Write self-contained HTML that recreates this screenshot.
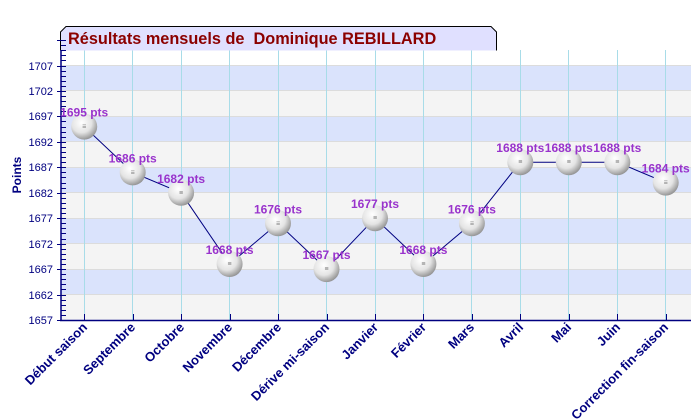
<!DOCTYPE html>
<html><head><meta charset="utf-8"><style>body{margin:0;background:#fff}svg{display:block}</style></head><body>
<svg width="700" height="420" xmlns="http://www.w3.org/2000/svg" font-family="Liberation Sans, sans-serif">
<defs>
<radialGradient id="b" cx="0.4" cy="0.35" r="0.7">
<stop offset="0" stop-color="#ffffff"/><stop offset="0.55" stop-color="#e4e4e4"/><stop offset="1" stop-color="#8a8a8a"/>
</radialGradient>
</defs>
<rect x="61" y="50" width="630" height="270" fill="#fff"/>
<g id="bands">
<rect x="61" y="294.55" width="630" height="25.45" fill="#f4f4f4"/>
<rect x="61" y="269.1" width="630" height="25.45" fill="#dae3fc"/>
<rect x="61" y="243.65" width="630" height="25.45" fill="#f4f4f4"/>
<rect x="61" y="218.2" width="630" height="25.45" fill="#dae3fc"/>
<rect x="61" y="192.75" width="630" height="25.45" fill="#f4f4f4"/>
<rect x="61" y="167.3" width="630" height="25.45" fill="#dae3fc"/>
<rect x="61" y="141.85" width="630" height="25.45" fill="#f4f4f4"/>
<rect x="61" y="116.4" width="630" height="25.45" fill="#dae3fc"/>
<rect x="61" y="90.95" width="630" height="25.45" fill="#f4f4f4"/>
<rect x="61" y="65.5" width="630" height="25.45" fill="#dae3fc"/>
</g>
<g stroke="#dcdcdc" stroke-width="1">
<line x1="61" x2="691" y1="294.5" y2="294.5"/><line x1="61" x2="691" y1="269.5" y2="269.5"/><line x1="61" x2="691" y1="243.5" y2="243.5"/><line x1="61" x2="691" y1="218.5" y2="218.5"/><line x1="61" x2="691" y1="192.5" y2="192.5"/><line x1="61" x2="691" y1="167.5" y2="167.5"/><line x1="61" x2="691" y1="141.5" y2="141.5"/><line x1="61" x2="691" y1="116.5" y2="116.5"/><line x1="61" x2="691" y1="90.5" y2="90.5"/><line x1="61" x2="691" y1="65.5" y2="65.5"/>
</g>
<g stroke="#a8dce8" stroke-width="1">
<line x1="84.5" x2="84.5" y1="50" y2="320"/><line x1="132.5" x2="132.5" y1="50" y2="320"/><line x1="181.5" x2="181.5" y1="50" y2="320"/><line x1="229.5" x2="229.5" y1="50" y2="320"/><line x1="278.5" x2="278.5" y1="50" y2="320"/><line x1="326.5" x2="326.5" y1="50" y2="320"/><line x1="375.5" x2="375.5" y1="50" y2="320"/><line x1="423.5" x2="423.5" y1="50" y2="320"/><line x1="471.5" x2="471.5" y1="50" y2="320"/><line x1="520.5" x2="520.5" y1="50" y2="320"/><line x1="568.5" x2="568.5" y1="50" y2="320"/><line x1="617.5" x2="617.5" y1="50" y2="320"/><line x1="665.5" x2="665.5" y1="50" y2="320"/>
</g>
<path d="M60.5,50.5 V32 L66,26.5 H491 L496.5,32 V50.5" fill="#e0e0ff" stroke="#000" stroke-width="1"/>
<text x="68" y="44" font-size="16.3" font-weight="bold" fill="#8b0000" xml:space="preserve">Résultats mensuels de&#160; Dominique REBILLARD</text>
<g stroke="#000080" stroke-width="1.5" fill="none">
<line x1="61" y1="50" x2="61" y2="320.5"/>
<line x1="60" y1="320.5" x2="691" y2="320.5"/>
</g>
<g stroke="#000080" stroke-width="1" id="ticks"></g>
<g fill="#000080" font-size="11" text-anchor="end">
<text x="53" y="324">1657</text><text x="53" y="299">1662</text><text x="53" y="273">1667</text><text x="53" y="248">1672</text><text x="53" y="222">1677</text><text x="53" y="197">1682</text><text x="53" y="171">1687</text><text x="53" y="146">1692</text><text x="53" y="120">1697</text><text x="53" y="95">1702</text><text x="53" y="70">1707</text>
</g>
<text transform="translate(21,175) rotate(-90)" font-size="12" font-weight="bold" fill="#000080" text-anchor="middle">Points</text>
<g fill="#000080" font-size="13" font-weight="bold" text-anchor="end">
<text transform="translate(88,328) rotate(-45)">Début saison</text>
<text transform="translate(136,328) rotate(-45)">Septembre</text>
<text transform="translate(185,328) rotate(-45)">Octobre</text>
<text transform="translate(233,328) rotate(-45)">Novembre</text>
<text transform="translate(282,328) rotate(-45)">Décembre</text>
<text transform="translate(330,328) rotate(-45)">Dérive mi-saison</text>
<text transform="translate(379,328) rotate(-45)">Janvier</text>
<text transform="translate(427,328) rotate(-45)">Février</text>
<text transform="translate(475,328) rotate(-45)">Mars</text>
<text transform="translate(524,328) rotate(-45)">Avril</text>
<text transform="translate(572,328) rotate(-45)">Mai</text>
<text transform="translate(621,328) rotate(-45)">Juin</text>
<text transform="translate(669,328) rotate(-45)">Correction fin-saison</text>
</g>
<polyline fill="none" stroke="#000080" stroke-width="1" points="84.2,126.6 132.7,172.4 181.1,192.8 229.6,264 278,223.3 326.5,269.1 375,218.2 423.4,264 471.9,223.3 520.3,162.2 568.8,162.2 617.3,162.2 665.7,182.6"/>
<g id="balls" fill="url(#b)"></g>
<g id="lbl" fill="#9933cc" font-size="12" font-weight="bold" text-anchor="middle"></g>
<script>
var xs=[84.2,132.7,181.1,229.6,278,326.5,375,423.4,471.9,520.3,568.8,617.3,665.7];
var v=[1695,1686,1682,1668,1676,1667,1677,1668,1676,1688,1688,1688,1684];
var ns="http://www.w3.org/2000/svg";
var t=document.getElementById('ticks'),b=document.getElementById('balls'),l=document.getElementById('lbl');
for(var k=0;k<=55;k++){var y=320-k*5.09;var e=document.createElementNS(ns,'line');e.setAttribute('x1',k%5==0?57:61);e.setAttribute('x2',66);e.setAttribute('y1',Math.round(y)+0.5);e.setAttribute('y2',Math.round(y)+0.5);t.appendChild(e);}
for(var i=0;i<13;i++){var x=xs[i],y=320-(v[i]-1657)*5.09;
var e=document.createElementNS(ns,'line');e.setAttribute('x1',Math.round(x)+0.5);e.setAttribute('x2',Math.round(x)+0.5);e.setAttribute('y1',314);e.setAttribute('y2',320);t.appendChild(e);
var c=document.createElementNS(ns,'circle');c.setAttribute('cx',x);c.setAttribute('cy',y);c.setAttribute('r',13);b.appendChild(c);
var g=document.createElementNS(ns,'text');g.setAttribute('x',x);g.setAttribute('y',y+2);g.setAttribute('font-size','7');g.setAttribute('fill','#777');g.setAttribute('text-anchor','middle');g.textContent='≡';b.appendChild(g);
var s=document.createElementNS(ns,'text');s.setAttribute('x',x);s.setAttribute('y',y-10);s.textContent=v[i]+' pts';l.appendChild(s);}
</script>
</svg>
</body></html>
